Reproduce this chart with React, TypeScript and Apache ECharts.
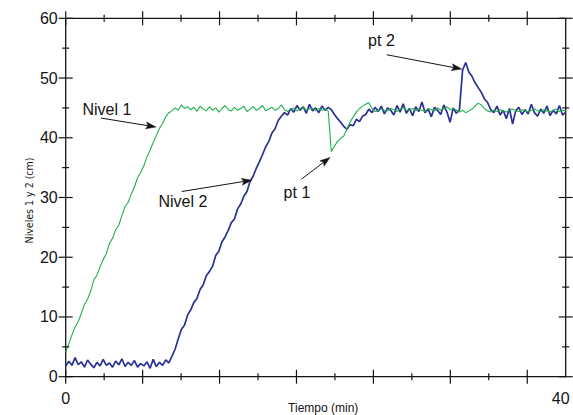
import React, { useEffect, useRef } from 'react';
import * as echarts from 'echarts';

// ---- data ----
const X_MIN = 0;
const X_MAX = 40; // minutes
const STEP_MIN = 0.25; // sampling step of the series, minutes
const X_TICK_STEP = 80 / 13; // spacing of the major x ticks, minutes (as drawn)
const Y_MIN = 0;
const Y_MAX = 60;
const Y_MAJOR = 10;
const xTickLabels = ['0', '40'];
const xAxisName = 'Tiempo (min)';
const yAxisName = 'Niveles 1 y 2 (cm)';

// Nivel 1 (green), one value every STEP_MIN minutes from 0 to 40
const nivel1 = [
  4.2, 5.5, 7.0, 8.3, 9.2, 10.6, 12.1, 13.0,
  14.3, 16.2, 17.0, 18.4, 19.6, 20.6, 22.3, 23.2,
  24.6, 25.4, 27.0, 28.5, 29.2, 30.6, 31.8, 33.3,
  34.2, 35.3, 36.8, 37.9, 39.2, 40.4, 41.6, 42.4,
  43.5, 44.2, 44.5, 45.0, 44.6, 45.5, 44.9, 45.2,
  44.7, 45.1, 44.4, 45.3, 44.8, 44.5, 45.2, 44.6,
  45.0, 44.3, 44.9, 45.4, 44.7, 44.5, 45.1, 44.6,
  44.9, 45.3, 44.4, 44.8, 45.2, 44.6, 44.9, 45.4,
  44.5, 44.8, 45.1, 44.6, 44.9, 45.5, 44.7, 44.4,
  44.8, 45.0, 44.5, 44.9, 45.2, 44.6, 44.8, 45.0,
  44.5, 44.9, 44.6, 44.8, 44.5, 37.7, 38.6, 39.4,
  39.9, 40.3, 41.5, 42.6, 43.5, 44.3, 44.9, 45.3,
  45.6, 45.9, 44.9, 44.4, 44.5, 44.8, 44.6, 44.5,
  44.9, 44.7, 44.4, 44.8, 45.0, 44.6, 44.7, 44.9,
  44.5, 44.8, 44.6, 44.4, 44.9, 44.7, 44.5, 45.0,
  44.6, 44.8, 45.2, 44.7, 44.9, 44.6, 44.3, 44.6,
  44.2, 44.5, 44.8, 45.3, 45.8, 45.5, 44.9, 44.5,
  44.3, 44.6, 44.4, 44.7, 44.5, 44.3, 44.6, 44.8,
  44.5, 44.4, 44.7, 44.5, 44.3, 44.6, 44.8, 44.5,
  44.4, 44.7, 44.5, 44.3, 44.6, 44.8, 44.4, 44.6,
  44.5,
];

// Nivel 2 (blue)
const nivel2 = [
  1.8, 2.6, 1.9, 3.2, 2.0, 2.5, 1.6, 2.8,
  2.1, 1.5, 2.4, 1.8, 2.9, 1.9, 2.3, 1.6,
  2.6, 2.0, 3.0, 1.7, 2.4, 1.9, 2.7, 1.6,
  2.2, 1.8, 2.5, 1.4, 2.9, 1.7, 2.4, 1.9,
  2.8, 2.3, 3.4, 4.6, 6.3, 7.9, 8.6, 10.3,
  11.2, 12.4, 13.1, 14.6, 15.4, 16.9, 17.6, 18.5,
  20.3, 21.0, 22.6, 23.4, 24.5, 25.8, 26.4, 28.1,
  28.9, 30.2, 31.0, 32.7, 33.6, 34.9, 36.0, 37.2,
  38.5, 39.4, 40.8, 41.5, 42.9, 43.6, 44.2, 43.8,
  44.9, 44.3, 45.4, 44.6, 45.2, 44.1, 45.6, 44.5,
  45.0, 44.2, 45.3, 44.6, 45.1, 44.7, 43.9, 43.2,
  42.6, 41.9, 41.4, 42.2, 42.0, 43.1, 42.7, 43.6,
  43.9, 44.8, 44.2, 45.1, 44.4, 45.3, 44.0, 45.0,
  44.6, 43.8, 45.4, 44.3, 45.7, 44.1, 44.9, 43.7,
  45.2, 44.4, 46.0, 44.2, 44.8, 43.5, 45.1, 44.6,
  43.9, 45.5, 44.3, 42.6, 45.0, 44.1, 44.7, 51.3,
  52.6, 51.0, 50.3, 49.2, 48.4, 47.6, 46.5, 45.9,
  44.7, 44.2, 45.3, 43.8, 44.6, 43.2, 44.9, 42.3,
  44.5, 45.1, 43.9, 44.7, 44.0, 45.6, 44.2, 43.6,
  44.8, 44.1, 45.3, 43.7, 44.6, 44.0, 45.4, 43.8,
  44.3,
];

// annotations: text, text centre, arrow start, arrow tip (data units)
const annotationTexts = ['Nivel 1', 'Nivel 2', 'pt 1', 'pt 2'];
const annotationLabelAt = [[3.3, 44.8], [9.38, 29.4], [18.5, 30.9], [25.26, 56.2]];
const annotationArrowFrom = [[2.82, 43.3], [9.28, 31.0], [18.88, 33.1], [25.68, 53.9]];
const annotationArrowTo = [[7.22, 41.8], [14.88, 32.9], [21.14, 36.7], [31.68, 51.5]];

const FONT = '"Liberation Sans", Arial, Helvetica, sans-serif';
const NARROW = '"Liberation Sans Narrow", "Arial Narrow", "DejaVu Sans Condensed", "Liberation Sans", sans-serif';
const INK = '#141414';
const MAJOR_HALF = 7;
const MINOR_HALF = 3.5;

function toPairs(values: number[]) {
  return values.map((v, i) => [X_MIN + i * STEP_MIN, v]);
}

// tick specs: [position, isMinor, side]  side: 0 bottom, 1 top, 2 left, 3 right
function buildTicks() {
  const out: number[][] = [];
  const nX = Math.floor(X_MAX / X_TICK_STEP + 1e-9);
  for (let k = 0; k <= nX; k++) {
    const x = k * X_TICK_STEP;
    out.push([x, 0, 0], [x, 0, 1]);
    const xm = x + X_TICK_STEP / 2;
    if (xm < X_MAX - 1e-6) out.push([xm, 1, 0], [xm, 1, 1]);
  }
  for (let y = Y_MIN; y <= Y_MAX + 1e-9; y += Y_MAJOR) {
    out.push([y, 0, 2], [y, 0, 3]);
    const ym = y + Y_MAJOR / 2;
    if (ym < Y_MAX) out.push([ym, 1, 2], [ym, 1, 3]);
  }
  return out;
}

export default function App() {
  const ref = useRef<HTMLDivElement>(null);

  useEffect(() => {
    if (!ref.current) return;
    const chart = echarts.init(ref.current, null, { renderer: 'svg' });

    const xLabel = (v: number) => {
      if (Math.abs(v - X_MIN) < 1e-6) return xTickLabels[0];
      if (Math.abs(v - X_MAX) < 1e-6) return '{r|' + xTickLabels[1] + '}';
      return '';
    };

    const tickRender = (_params: any, api: any) => {
      const pos = api.value(0);
      const half = api.value(1) ? MINOR_HALF : MAJOR_HALF;
      const side = api.value(2);
      let shape;
      if (side === 0 || side === 1) {
        const p = api.coord([pos, side === 0 ? Y_MIN : Y_MAX]);
        shape = { x1: p[0], y1: p[1] - half, x2: p[0], y2: p[1] + half };
      } else {
        const p = api.coord([side === 2 ? X_MIN : X_MAX, pos]);
        shape = { x1: p[0] - half, y1: p[1], x2: p[0] + half, y2: p[1] };
      }
      return { type: 'line', shape, style: { stroke: INK, lineWidth: 1.2 } };
    };

    const arrowRender = (_params: any, api: any) => {
      const a = api.coord([api.value(0), api.value(1)]);
      const b = api.coord([api.value(2), api.value(3)]);
      const dx = b[0] - a[0];
      const dy = b[1] - a[1];
      const len = Math.sqrt(dx * dx + dy * dy) || 1;
      const ux = dx / len;
      const uy = dy / len;
      const H = 10;
      const W = 3.4;
      const bx = b[0] - ux * H;
      const by = b[1] - uy * H;
      return {
        type: 'group',
        children: [
          { type: 'line', shape: { x1: a[0], y1: a[1], x2: bx + ux * 2, y2: by + uy * 2 }, style: { stroke: INK, lineWidth: 1 } },
          {
            type: 'polygon',
            shape: { points: [[b[0], b[1]], [bx - uy * W, by + ux * W], [bx + ux * 2, by + uy * 2], [bx + uy * W, by - ux * W]] },
            style: { fill: INK, stroke: INK, lineWidth: 0.5 },
          },
        ],
      };
    };

    const option: any = {
      animation: false,
      backgroundColor: '#ffffff',
      grid: {
        left: 65.7,
        right: 7.3,
        top: 18.3,
        bottom: 38.3,
        show: true,
        backgroundColor: 'rgba(0,0,0,0)',
        borderColor: INK,
        borderWidth: 1.3,
        containLabel: false,
        outerBoundsMode: 'none',
      },
      xAxis: {
        type: 'value',
        position: 'bottom',
        min: X_MIN,
        max: X_MAX,
        interval: X_MAX - X_MIN,
        axisLine: { show: false, onZero: false },
        axisTick: { show: false },
        splitLine: { show: false },
        axisLabel: {
          show: true,
          margin: 14,
          color: INK,
          fontSize: 16,
          fontFamily: FONT,
          showMinLabel: true,
          showMaxLabel: true,
          formatter: xLabel,
          rich: { r: { fontSize: 16, fontFamily: FONT, color: INK, padding: [0, 10, 0, 0] } },
        },
        name: xAxisName,
        nameLocation: 'middle',
        nameGap: 25,
        nameMoveOverlap: false,
        nameTextStyle: { color: INK, fontSize: 12, fontFamily: FONT, padding: [0, 0, 0, 15] },
      },
      yAxis: {
        type: 'value',
        position: 'left',
        min: Y_MIN,
        max: Y_MAX,
        interval: Y_MAJOR,
        axisLine: { show: false, onZero: false },
        axisTick: { show: false },
        splitLine: { show: false },
        axisLabel: { show: true, margin: 8, color: INK, fontSize: 16, fontFamily: FONT },
        name: yAxisName,
        nameLocation: 'middle',
        nameGap: 31,
        nameMoveOverlap: false,
        nameTextStyle: { color: INK, fontSize: 10.5, fontFamily: NARROW, padding: [0, 6, 0, 0] },
      },
      series: [
        {
          name: 'Nivel 2',
          type: 'line',
          data: toPairs(nivel2),
          showSymbol: false,
          symbol: 'none',
          lineStyle: { color: '#2b3094', width: 1.7 },
          itemStyle: { color: '#2b3094' },
          silent: true,
          z: 2,
        },
        {
          name: 'Nivel 1',
          type: 'line',
          data: toPairs(nivel1),
          showSymbol: false,
          symbol: 'none',
          lineStyle: { color: '#22b04b', width: 1.1 },
          itemStyle: { color: '#22b04b' },
          silent: true,
          z: 3,
          markPoint: {
            silent: true,
            symbol: 'circle',
            symbolSize: 1,
            itemStyle: { color: 'rgba(0,0,0,0)' },
            label: {
              show: true,
              position: 'inside',
              formatter: '{b}',
              color: INK,
              fontSize: 16,
              fontFamily: FONT,
            },
            emphasis: { disabled: true },
            data: annotationTexts.map((t, i) => ({ name: t, coord: annotationLabelAt[i] })),
          },
        },
        {
          name: 'arrows',
          type: 'custom',
          silent: true,
          clip: false,
          z: 5,
          renderItem: arrowRender,
          data: annotationArrowFrom.map((f, i) => [f[0], f[1], annotationArrowTo[i][0], annotationArrowTo[i][1]]),
        },
        {
          name: 'ticks',
          type: 'custom',
          silent: true,
          clip: false,
          z: 6,
          renderItem: tickRender,
          data: buildTicks(),
        },
      ],
    };

    chart.setOption(option);
    return () => chart.dispose();
  }, []);

  return (
    <div
      ref={ref}
      style={{ position: 'absolute', left: 0, top: 0, width: 573, height: 415, background: '#ffffff' }}
    />
  );
}
